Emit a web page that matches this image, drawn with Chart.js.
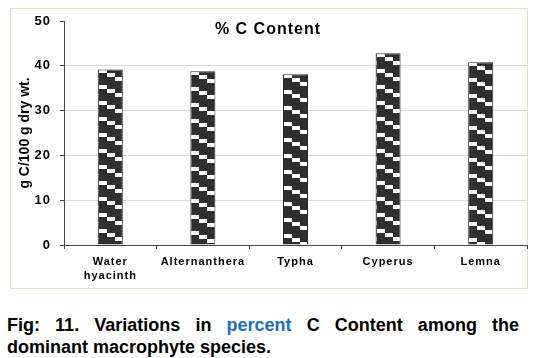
<!DOCTYPE html>
<html><head><meta charset="utf-8">
<script src="https://cdn.jsdelivr.net/npm/chart.js@4.4.1/dist/chart.umd.min.js"></script>
<style>
html,body{margin:0;padding:0;background:#fff;}
body{width:536px;height:358px;position:relative;overflow:hidden;font-family:"Liberation Sans",Arial,sans-serif;}
#frame{position:absolute;left:10px;top:8px;width:516px;height:279px;border:1px solid #cfe9c6;}
#wrap{position:absolute;left:0;top:0;width:536px;height:290px;}
#cap{position:absolute;left:7px;top:314px;width:512px;font-weight:bold;font-size:18px;line-height:22px;text-align:justify;color:#000;}
#cap .b{color:#1a6fc4;}
</style></head><body>
<div id="frame"></div>
<div id="wrap"><canvas id="c" width="536" height="290"></canvas></div>
<div id="cap">Fig: 11. Variations in <span class="b">percent</span> C Content among the dominant macrophyte species.</div>
<script>
const categories = [['Water','hyacinth'],'Alternanthera','Typha','Cyperus','Lemna'];
const carbonPercent = [39.2, 38.8, 38.1, 42.8, 40.8];
const yTicks = [0,10,20,30,40,50];
const chartTitle = '% C Content';
const yAxisTitle = 'g C/100 g dry wt.';

const FF = '"Liberation Sans", Arial, sans-serif';
const canvas = document.getElementById('c');
const mainCtx = canvas.getContext('2d');

function makePattern(){
  const t = document.createElement('canvas'); t.width = 24; t.height = 16;
  const g = t.getContext('2d');
  g.fillStyle = '#2f2f2f'; g.fillRect(0,0,24,16);
  g.fillStyle = '#ffffff';
  g.fillRect(0,0,8,4); g.fillRect(8,4,8,4); g.fillRect(16,8,8,4);
  return mainCtx.createPattern(t,'repeat');
}
const patterns = carbonPercent.map(() => makePattern());

const spacingPlugin = {
  id:'spacing',
  beforeLayout(chart){ chart.ctx.letterSpacing = '1px'; },
  beforeDraw(chart){ chart.ctx.letterSpacing = '1px'; }
};
const patternPlugin = {
  id:'patternAlign',
  beforeDatasetsDraw(chart){
    const meta = chart.getDatasetMeta(0);
    meta.data.forEach((el,i) => {
      const p = patterns[i];
      if (p && p.setTransform) p.setTransform(new DOMMatrix().translate(Math.round(el.x - el.width/2) + 1, Math.round(el.y)));
    });
  }
};
const textPlugin = {
  id:'innerTexts',
  afterDraw(chart){
    const ctx = chart.ctx;
    ctx.save();
    ctx.letterSpacing = '1px';
    ctx.font = 'bold 16px ' + FF;
    ctx.fillStyle = '#000';
    ctx.textAlign = 'center';
    ctx.textBaseline = 'alphabetic';
    ctx.fillText(chartTitle, 268, 34);
    ctx.restore();
    const y = chart.scales.y;
    ctx.save();
    ctx.letterSpacing = '0px';
    ctx.font = 'bold 14px ' + FF;
    ctx.fillStyle = '#000';
    ctx.translate(25, (y.top + y.bottom) / 2);
    ctx.rotate(-Math.PI / 2);
    ctx.textAlign = 'center';
    ctx.textBaseline = 'middle';
    ctx.fillText(yAxisTitle, 0, 0);
    ctx.restore();
  }
};

new Chart(mainCtx, {
  type:'bar',
  data:{
    labels: categories,
    datasets:[{
      data: carbonPercent,
      backgroundColor: patterns,
      borderColor:'#2a2a2a',
      borderWidth:1,
      barPercentage:0.27,
      categoryPercentage:1
    }]
  },
  options:{
    responsive:false,
    animation:false,
    devicePixelRatio:1,
    layout:{padding:{left:0,right:9,top:21,bottom:0}},
    plugins:{legend:{display:false},tooltip:{enabled:false},title:{display:false}},
    scales:{
      x:{
        grid:{display:true,offset:true,drawOnChartArea:false,drawTicks:true,tickLength:4,tickColor:'#444'},
        border:{display:true,color:'#444',width:1},
        ticks:{font:{size:11,weight:'bold',family:FF,lineHeight:1.27},color:'#000',padding:6,maxRotation:0,autoSkip:false},
        afterFit(s){ s.height = 45; }
      },
      y:{
        min:0,max:50,
        afterBuildTicks(s){ s.ticks = yTicks.map(v => ({value:v})); },
        grid:{color:c => (c.tick && c.tick.value === 50) ? 'rgba(0,0,0,0)' : '#d9d9d9', tickColor:'#444', tickLength:4, drawTicks:true},
        border:{display:true,color:'#444',width:1},
        ticks:{font:{size:13,weight:'bold',family:FF},color:'#000',padding:9},
        title:{display:false},
        afterFit(s){ s.width = 64; }
      }
    }
  },
  plugins:[spacingPlugin, patternPlugin, textPlugin]
});
</script>
</body></html>
